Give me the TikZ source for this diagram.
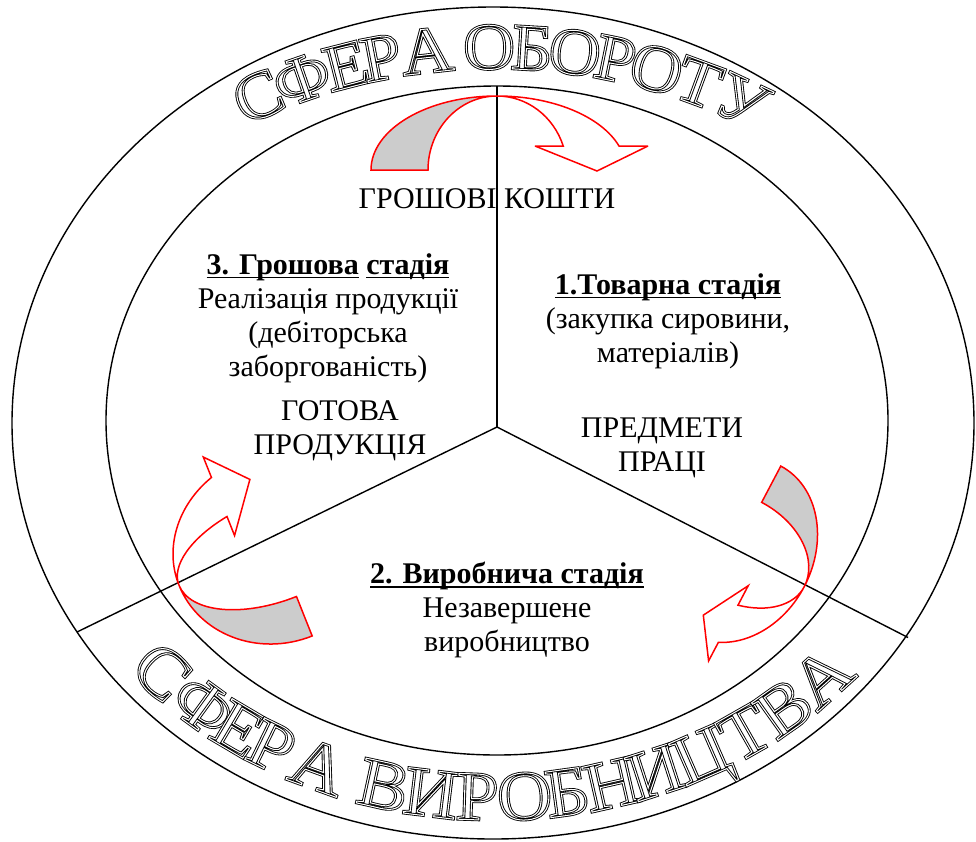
\documentclass[tikz,border=0pt]{standalone}
\usepackage{fontspec}
\setmainfont{Liberation Serif}[UprightFont=*, BoldFont=* Bold]
\newcommand\outl[1]{\scalebox{1.08}[1]{\rlap{\special{pdf:literal direct 0 0 0 RG 1 Tr 2.7 w}#1}\special{pdf:literal direct 1 1 1 RG 1 Tr 1.0 w}#1\special{pdf:literal direct 0 0 0 RG 0 Tr}}}
\newcommand\ulx[1]{\setbox0\hbox{#1}\rlap{\rule[-4pt]{\wd0}{1.6pt}}\box0\relax}
\tikzset{
  ring/.style={draw=black, line width=1.4pt},
  spoke/.style={draw=black, line width=1.4pt},
  band/.style={draw=red, line width=1.5pt, line join=miter, miter limit=4},
  grayband/.style={band, fill=black!20},
  lbl/.style={font=\fontsize{30}{34}\selectfont, align=center, inner sep=0pt},
  topletter/.style={font=\fontsize{66}{66}\selectfont, inner sep=0pt, text height=43.7pt, text depth=0pt},
  botletter/.style={font=\fontsize{70}{70}\selectfont, inner sep=0pt, text height=46.3pt, text depth=0pt},
}
\begin{document}
\begin{tikzpicture}[x=1pt,y=-1pt]
\useasboundingbox (0,0) rectangle (976,841);
\fill[white] (0,0) rectangle (976,841);
\draw[ring] (493,423) ellipse [x radius=481, y radius=416];
\draw[ring] (497,420.5) ellipse [x radius=391, y radius=334.5];
\coordinate (O) at (497,427);
\coordinate (Ptop) at (497,86);
\coordinate (Pl) at (77,632);
\coordinate (Pr) at (908,637.5);
\draw[spoke] (O) -- (Ptop);
\draw[spoke] (O) -- (Pl);
\draw[spoke] (O) -- (Pr);
% top arrow
\begin{scope}[shift={(497,170)}]
 \draw[grayband] (0,-74) arc[start angle=-90, end angle=-180, x radius=126, y radius=74] -- (-69,0) arc[start angle=180, end angle=270, x radius=69, y radius=74] -- cycle;
 \draw[band] (0,-74) arc[start angle=-90, end angle=-18.92, x radius=70, y radius=74] -- (38,-24) -- (100,1) -- (151,-24) -- (122,-24) arc[start angle=-18.92, end angle=-90, x radius=129, y radius=74] -- cycle;
\end{scope}
% right arrow
\begin{scope}[shift={(736,551)}, rotate=-117.8]
 \draw[grayband] (0,-77) arc[start angle=-90, end angle=-180, x radius=96, y radius=77] -- (-55,0) arc[start angle=180, end angle=270, x radius=55, y radius=77] -- cycle;
 \draw[band] (0,-77) arc[start angle=-90, end angle=-20.53, x radius=50.2, y radius=77] -- (25,-27) -- (72,-1) -- (110,-27) -- (89,-27) arc[start angle=-20.53, end angle=-90, x radius=95, y radius=77] -- cycle;
\end{scope}
% left arrow
\begin{scope}[shift={(276.5,546.3)}, rotate=111.7]
 \draw[grayband] (0,-105) arc[start angle=-90, end angle=-180, x radius=96.5, y radius=105] -- (-54,0) arc[start angle=180, end angle=270, x radius=54, y radius=105] -- cycle;
 \draw[band] (0,-105) arc[start angle=-90, end angle=-19.47, x radius=48.8, y radius=105] -- (25.5,-35) -- (72,0) -- (110,-35) -- (88,-35) arc[start angle=-19.47, end angle=-90, x radius=93.3, y radius=105] -- cycle;
\end{scope}
% texts
\node[lbl] (money) at (487,199) {ГРОШОВІ КОШТИ};
\node[lbl] (st3) at (328,318) {{\bfseries\ulx{3. Грошова} \ulx{стадія}}\\Реалізація продукції\\(дебіторська\\заборгованість)};
\node[lbl] (gp) at (340,431) {ГОТОВА\\ПРОДУКЦІЯ};
\node[lbl] (st1) at (668,321) {{\bfseries\ulx{1.Товарна стадія}}\\(закупка сировини,\\матеріалів)};
\node[lbl] (pp) at (662,448) {ПРЕДМЕТИ\\ПРАЦІ};
\node[lbl] (st2) at (507,610) {{\bfseries\ulx{2. Виробнича стадія}}\\Незавершене\\виробництво};
% curved titles
\foreach \ch/\t [count=\i] in {С/119.3,Ф/113.5,Е/107.9,Р/103.6,А/98.1,О/90.7,Б/85.6,О/80.5,Р/75.6,О/70.5,Т/65.1,У/59.3}{
  \pgfmathsetmacro\px{495+484*cos(\t)}
  \pgfmathsetmacro\py{430-383*sin(\t)}
  \pgfmathsetmacro\rot{atan2(484*sin(\t),383*cos(\t))-90}
  \node[topletter, rotate=\rot] (top\i) at (\px,\py) {\outl{\ch}};
}
\foreach \ch/\t [count=\i] in {С/221.9,Ф/229.3,Е/235.0,Р/240.0,А/246.8,В/255.6,И/261.8,Р/267.7,О/273.8,Б/279.3,Н/285.1,И/291.0,Ц/297.4,Т/304.0,В/310.2,А/317.0}{
  \pgfmathsetmacro\px{495+447*cos(\t)}
  \pgfmathsetmacro\py{420-377*sin(\t)}
  \pgfmathsetmacro\rot{atan2(-447*sin(\t),-377*cos(\t))-90}
  \node[botletter, rotate=\rot] (bot\i) at (\px,\py) {\outl{\ch}};
}
\end{tikzpicture}
\end{document}
